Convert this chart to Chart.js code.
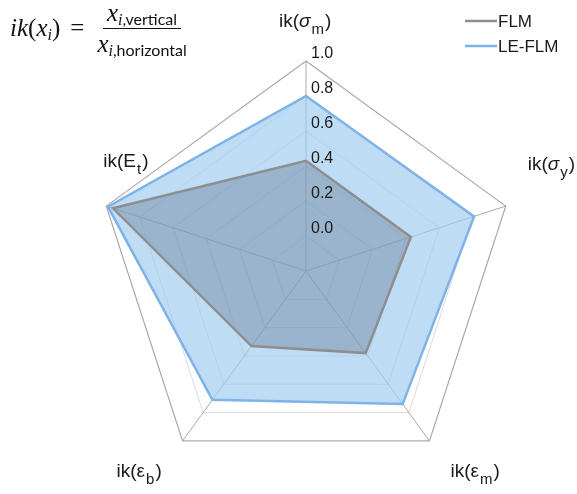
<!DOCTYPE html>
<html>
<head>
<meta charset="utf-8">
<script src="https://cdn.jsdelivr.net/npm/chart.js@4"></script>
<style>
  body { margin: 0; background: #fff; }
  #wrap { position: relative; width: 577px; height: 494px; }
  #c { position: absolute; left: 0; top: 0; }
  #formula { position: absolute; left: 10px; top: 0px; height: 56px; display: flex; align-items: center;
             font-family: "Liberation Serif", serif; font-size: 25px; color: #111; white-space: nowrap; }
  #formula i { font-style: italic; }
  #formula sub { font-size: 16px; vertical-align: -4px; line-height: 0; }
  #formula .t { font-family: Lato, "Open Sans", sans-serif; font-style: normal; font-size: 16px; }
  .eq { margin: 0 10px 0 10px; }
  .frac { display: inline-flex; flex-direction: column; align-items: center; }
  .num { padding: 0 4px 1px 4px; border-bottom: 1.6px solid #111; }
  .den { padding: 1px 3px 0 3px; }
</style>
</head>
<body>
<div id="wrap">
  <canvas id="c" width="577" height="494"></canvas>
  <div id="formula">
    <span><i>ik</i>(<i>x</i><sub><i>i</i></sub>)</span><span class="eq">=</span>
    <span class="frac">
      <span class="num"><i>x</i><sub><i>i</i><span class="t">,vertical</span></sub></span>
      <span class="den"><i>x</i><sub><i>i</i><span class="t">,horizontal</span></sub></span>
    </span>
  </div>
</div>
<script>
// axes, clockwise from the top
var categories = ['ik(σm)', 'ik(σy)', 'ik(εm)', 'ik(εb)', 'ik(Et)'];
var flm = [0.43, 0.43, 0.38, 0.33, 0.96];
var leFlm = [0.80, 0.81, 0.74, 0.71, 0.99];
var tickValues = [0.0, 0.2, 0.4, 0.6, 0.8, 1.0];

// label pieces so the subscripts can be drawn
var labelParts = [
  [['ik(', 'n'], ['σ', 'i'], ['m', 's'], [')', 'n']],
  [['ik(', 'n'], ['σ', 'i'], ['y', 's'], [')', 'n']],
  [['ik(ε', 'n'], ['m', 's'], [')', 'n']],
  [['ik(ε', 'n'], ['b', 's'], [')', 'n']],
  [['ik(E', 'n'], ['t', 's'], [')', 'n']]
];
var labelOffsets = [[-27, -34], [22, -36], [21, 36], [-66, 36], [-3, -39]];

var overlay = {
  id: 'overlay',
  afterDraw: function (chart) {
    var c = chart.ctx;
    var r = chart.scales.r;
    c.save();

    // tick labels along the top axis
    c.font = '16px "Liberation Sans", Arial, sans-serif';
    c.fillStyle = '#1a1a1a';
    c.textAlign = 'left';
    c.textBaseline = 'middle';
    tickValues.forEach(function (v) {
      var d = r.getDistanceFromCenterForValue(v);
      c.fillText(v.toFixed(1), r.xCenter + 5, r.yCenter - d - 7);
    });

    // point labels
    c.textBaseline = 'alphabetic';
    labelParts.forEach(function (parts, i) {
      var p = r.getPointPosition(i, r.drawingArea);
      var x = p.x + labelOffsets[i][0];
      var y = p.y + labelOffsets[i][1];
      parts.forEach(function (pt) {
        var yy = y;
        if (pt[1] === 's') { c.font = '15px "Liberation Sans", Arial, sans-serif'; yy = y + 7; x += 1; }
        else if (pt[1] === 'i') c.font = 'italic 19px "Liberation Sans", Arial, sans-serif';
        else c.font = '19px "Liberation Sans", Arial, sans-serif';
        c.fillText(pt[0], x, yy);
        x += c.measureText(pt[0]).width + (pt[1] === 's' ? 1 : 0);
      });
    });

    // legend
    c.font = '17px "Liberation Sans", Arial, sans-serif';
    c.textBaseline = 'middle';
    chart.data.datasets.forEach(function (ds, i) {
      var y = 21 + i * 25;
      c.strokeStyle = ds.borderColor;
      c.lineWidth = 2.5;
      c.beginPath();
      c.moveTo(465, y);
      c.lineTo(497, y);
      c.stroke();
      c.fillStyle = '#1a1a1a';
      c.fillText(ds.label, 498, y + 1);
    });
    c.restore();
  }
};

new Chart(document.getElementById('c'), {
  type: 'radar',
  data: {
    labels: categories,
    datasets: [{
      label: 'FLM',
      data: flm,
      borderColor: '#8e8e8e',
      backgroundColor: 'rgba(40, 60, 80, 0.25)',
      borderWidth: 2.5,
      pointRadius: 0,
      fill: 'start'
    }, {
      label: 'LE-FLM',
      data: leFlm,
      borderColor: '#7db3e8',
      backgroundColor: 'rgba(160, 203, 240, 0.68)',
      borderWidth: 2.5,
      pointRadius: 0,
      fill: 'start'
    }]
  },
  options: {
    responsive: false,
    animation: false,
    layout: { padding: { left: 96, right: 61, top: 61, bottom: 13 } },
    plugins: { legend: { display: false }, tooltip: { enabled: false } },
    elements: { line: { tension: 0 } },
    scales: {
      r: {
        min: -0.2,
        max: 1.0,
        ticks: { display: false, stepSize: 0.2 },
        pointLabels: { display: false },
        angleLines: { color: '#a9a9a9', lineWidth: 1 },
        grid: {
          color: function (ctx) { return ctx.index === 6 ? '#a9a9a9' : '#d2d2d2'; },
          lineWidth: function (ctx) { return ctx.index === 6 ? 1.2 : 0.8; }
        }
      }
    }
  },
  plugins: [overlay]
});
</script>
</body>
</html>
